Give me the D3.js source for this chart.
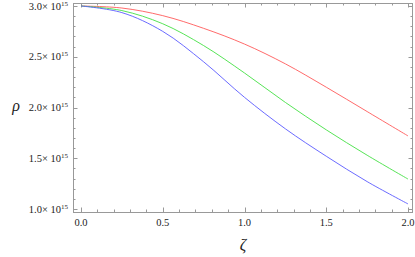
<!DOCTYPE html>
<html>
<head>
<meta charset="utf-8">
<script src="https://cdn.jsdelivr.net/npm/d3@7"></script>
<style>
  body { margin: 0; background: #fff; }
</style>
</head>
<body>
<svg id="chart" width="415" height="257"></svg>
<script>
// data (rho in units of 1e15)
const zeta = [0, 0.25, 0.5, 0.75, 1.0, 1.25, 1.5, 1.75, 2.0];
const rhoRed = [3.0, 2.98, 2.905, 2.78, 2.625, 2.43, 2.20, 1.96, 1.72];
const rhoGreen = [3.0, 2.955, 2.825, 2.61, 2.34, 2.05, 1.78, 1.53, 1.295];
const rhoBlue = [3.0, 2.935, 2.75, 2.45, 2.10, 1.79, 1.52, 1.27, 1.05];
const xTicks = [0, 0.5, 1.0, 1.5, 2.0];
const yTicks = [1.0, 1.5, 2.0, 2.5, 3.0];

const serif = '"Liberation Serif", "Times New Roman", "DejaVu Serif", serif';
const svg = d3.select('#chart');
const fLeft = 73, fRight = 413, fTop = 3, fBottom = 212;

const x = d3.scaleLinear().domain([0, 2]).range([81, 408]);
const y = d3.scaleLinear().domain([1, 3]).range([209, 6]);

// frame
svg.append('rect')
    .attr('x', fLeft + 0.5).attr('y', fTop + 0.5)
    .attr('width', fRight - fLeft - 1).attr('height', fBottom - fTop)
    .style('fill', 'none').style('stroke', '#999').style('stroke-width', 1);

// minor + major ticks, all four sides, pointing in
const xMinor = d3.range(0, 2.01, 0.1);
const yMinor = d3.range(1, 3.01, 0.1);
const tickG = svg.append('g').style('stroke', '#999').style('stroke-width', 1);
xMinor.forEach(v => {
    const major = xTicks.some(t => Math.abs(t - v) < 1e-6);
    const len = major ? 4.5 : 2.5;
    const px = Math.round(x(v)) + 0.5;
    tickG.append('line').attr('x1', px).attr('x2', px).attr('y1', fBottom).attr('y2', fBottom - len);
    tickG.append('line').attr('x1', px).attr('x2', px).attr('y1', fTop).attr('y2', fTop + len);
});
yMinor.forEach(v => {
    const major = yTicks.some(t => Math.abs(t - v) < 1e-6);
    const len = major ? 4.5 : 2.5;
    const py = Math.round(y(v)) + 0.5;
    tickG.append('line').attr('y1', py).attr('y2', py).attr('x1', fLeft).attr('x2', fLeft + len);
    tickG.append('line').attr('y1', py).attr('y2', py).attr('x1', fRight).attr('x2', fRight - len);
});

// x labels
svg.selectAll('.xl').data(xTicks).enter().append('text')
    .attr('x', d => x(d)).attr('y', 226)
    .attr('text-anchor', 'middle')
    .attr('font-family', serif).attr('font-size', 10.5).attr('fill', '#222')
    .text(d => d.toFixed(1));

// y labels with exponent
yTicks.forEach(v => {
    const t = svg.append('text')
        .attr('x', 68).attr('y', y(v) + 3.5)
        .attr('text-anchor', 'end')
        .attr('font-family', serif).attr('font-size', 10.5).attr('fill', '#222');
    t.append('tspan').text(v.toFixed(1) + '\u00d7 10');
    t.append('tspan').attr('dy', -4).attr('font-size', 7).text('15');
});

// axis titles
svg.append('text').attr('x', 243).attr('y', 250)
    .attr('text-anchor', 'middle')
    .attr('font-family', serif).attr('font-size', 16).attr('font-style', 'italic').attr('fill', '#222')
    .text('\u03b6');
svg.append('text').attr('x', 16).attr('y', 111)
    .attr('text-anchor', 'middle')
    .attr('font-family', serif).attr('font-size', 16).attr('font-style', 'italic').attr('fill', '#222')
    .text('\u03c1');

// curves
const line = d3.line().x((d, i) => x(zeta[i])).y(d => y(d)).curve(d3.curveCatmullRom);
[[rhoRed, '#ff5a5a'], [rhoGreen, '#44e044'], [rhoBlue, '#5a5aff']].forEach(([s, c]) => {
    svg.append('path').datum(s).attr('d', line)
        .style('fill', 'none').style('stroke', c).style('stroke-width', 0.9);
});
</script>
</body>
</html>
